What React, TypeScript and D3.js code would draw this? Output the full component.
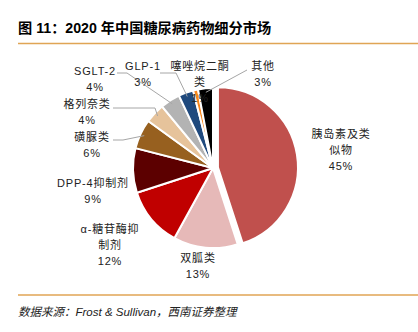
import React from "react";
import * as d3 from "d3";

const categories = ["胰岛素及类似物", "双胍类", "α-糖苷酶抑制剂", "DPP-4抑制剂", "磺脲类", "格列奈类", "SGLT-2", "GLP-1", "噻唑烷二酮类", "其他"];
const values = [45, 13, 12, 9, 6, 4, 4, 3, 1, 3];
const labelLines = [
  ["胰岛素及类", "似物", "45%"],
  ["双胍类", "13%"],
  ["α-糖苷酶抑", "制剂", "12%"],
  ["DPP-4抑制剂", "9%"],
  ["磺脲类", "6%"],
  ["格列奈类", "4%"],
  ["SGLT-2", "4%"],
  ["GLP-1", "3%"],
  ["噻唑烷二酮", "类", "1%"],
  ["其他", "3%"],
];
const colors = ["#C0504D", "#E6B9B8", "#C00000", "#5C0000", "#97601F", "#E6C39B", "#B3B3B3", "#1F497D", "#F7861D", "#000000"];

// layout: label centre x, first line y, and optional leader start point
const labelLayout: { x: number; y: number; lead?: [number, number, number] }[] = [
  { x: 341, y: 138 },
  { x: 198, y: 262 },
  { x: 110, y: 233 },
  { x: 93, y: 187 },
  { x: 92, y: 141, lead: [113, 140, 123] },
  { x: 87, y: 108, lead: [113, 108, 155] },
  { x: 95, y: 75, lead: [117, 73, 127] },
  { x: 143, y: 70, lead: [160, 73, 176] },
  { x: 200, y: 70 },
  { x: 263, y: 70, lead: [247, 70, 247] },
];

export default function App() {
  const W = 418, H = 332;
  const cx = 213, cy = 168, r = 80;
  const pie = d3.pie<number>().sort(null).value((d) => d).startAngle(0).endAngle(2 * Math.PI);
  const arcs = pie(values);
  const arc = d3.arc<d3.PieArcDatum<number>>().innerRadius(0).outerRadius(r);
  const edge = d3.arc<d3.PieArcDatum<number>>().innerRadius(r - 4).outerRadius(r - 4);
  const font = "'Liberation Sans', 'Noto Sans CJK SC', sans-serif";
  return (
    <svg width={W} height={H} style={{ position: "absolute", left: 0, top: 0, background: "#fff" }}>
      <text x={18} y={33} fontFamily={font} fontWeight="bold" fontSize={14.2} fill="#000">
        图 11：2020 年中国糖尿病药物细分市场
      </text>
      <line x1={18} x2={418} y1={43.5} y2={43.5} stroke="#E0A555" strokeWidth={1.5} />
      <line x1={18} x2={418} y1={295} y2={295} stroke="#E0A555" strokeWidth={1.5} />
      <text x={18} y={316} fontFamily={font} fontStyle="italic" fontSize={11.5} fill="#222">
        数据来源：Frost &amp; Sullivan，西南证券整理
      </text>
      <g transform={`translate(${cx},${cy})`}>
        {arcs.map((a, i) => {
          let dx = 0, dy = 0;
          if (i === 0) {
            const m = (a.startAngle + a.endAngle) / 2;
            dx = Math.sin(m) * 5;
            dy = -Math.cos(m) * 5;
          }
          return (
            <path key={categories[i]} d={arc(a) || ""} fill={colors[i]} stroke="#fff" strokeWidth={2}
              transform={`translate(${dx},${dy})`} />
          );
        })}
      </g>
      {arcs.map((a, i) => {
        const L = labelLayout[i];
        if (!L.lead) return null;
        const [ex, ey] = edge.centroid(a);
        const [sx, sy, mx] = L.lead;
        return (
          <polyline key={"l" + i} points={`${sx},${sy} ${mx},${sy} ${cx + ex},${cy + ey}`} fill="none" stroke="#A6A6A6" strokeWidth={1} />
        );
      })}
      {labelLines.map((lines, i) => {
        const L = labelLayout[i];
        return (
          <text key={"t" + i} x={L.x} y={L.y} textAnchor="middle" fontFamily={font} fontSize={11} letterSpacing={0.8} fill="#222">
            {lines.map((s, j) => (
              <tspan key={j} x={L.x} y={L.y + j * 16}>{s}</tspan>
            ))}
          </text>
        );
      })}
    </svg>
  );
}
